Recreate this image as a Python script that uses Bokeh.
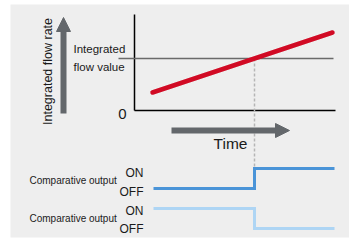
from bokeh.plotting import figure
from bokeh.models import Range1d, Arrow, NormalHead
from bokeh.core.properties import value
from bokeh.embed import file_html
from bokeh.resources import INLINE
import math

# ---- data (time / flow units) ----
flow_time = [1.8, 19.8]
flow_rate = [1.8, 7.8]
threshold = 5.2
threshold_span = [-1.6, 19.9]
cross_time = 12.0
axis_len_t = 20.1
axis_len_f = 9.6
sig_time = [1.9, 12.0, 20.0]
sig1_state = [0, 1, 1]
sig2_state = [1, 0, 0]

W, H = 349, 246
FONT = "Liberation Sans"
GRAY = "#63676b"

# helpers: reference pixel -> data units
def tx(px):
    return (px - 134) / 10.0

def ty(py):
    return (110 - py) / 10.0

p = figure(width=W, height=H, output_backend="svg", toolbar_location=None,
           x_range=Range1d(tx(0), tx(W)), y_range=Range1d(ty(H), ty(0)),
           min_border=0, min_border_left=0, min_border_right=0,
           min_border_top=0, min_border_bottom=0)
p.axis.visible = False
p.grid.visible = False
p.outline_line_color = None
p.background_fill_color = "white"
p.border_fill_color = "white"
# signal ranges: state 0/1 -> 20 px step
p.extra_y_ranges = {"sig1": Range1d((188 - H) / 20, 188 / 20),
                    "sig2": Range1d((228 - H) / 20, 228 / 20)}

# panel background
p.quad(left=[tx(10)], right=[tx(W + 5)], top=[ty(4)], bottom=[ty(237)],
       fill_color="#eeeeee", line_color=None)

# axes
p.line([0, 0], [0, axis_len_f], line_color="black", line_width=1.5)
p.line([0, axis_len_t], [0, 0], line_color="black", line_width=1.5)
# threshold
p.line(threshold_span, [threshold, threshold], line_color="#6a6a6a", line_width=1.5)
# dashed
p.line([cross_time, cross_time], [threshold, ty(168)], line_color="#b5b5b5",
       line_width=1.5, line_dash="3 2")
# flow line
p.line(flow_time, flow_rate, line_color="#d10a24", line_width=4.5, line_cap="round")

# signals
p.step(sig_time, sig1_state, mode="after", y_range_name="sig1",
       line_color="#4a94d8", line_width=3, line_join="miter")
p.step(sig_time, sig2_state, mode="after", y_range_name="sig2",
       line_color="#aed5f4", line_width=3, line_join="miter")

# arrows
p.add_layout(Arrow(end=NormalHead(size=14, fill_color=GRAY, line_color=GRAY),
                   x_start=tx(63), y_start=ty(113), x_end=tx(63), y_end=ty(17),
                   line_color=GRAY, line_width=6))
p.add_layout(Arrow(end=NormalHead(size=14, fill_color=GRAY, line_color=GRAY),
                   x_start=tx(171), y_start=ty(130), x_end=tx(289), y_end=ty(130),
                   line_color=GRAY, line_width=6))

# texts
def txt(x, y, s, size, align="left", angle=0):
    p.text(x=[tx(x)], y=[ty(y)], text=[s], text_font=value(FONT),
           text_font_size=f"{size}px", text_align=align, text_baseline="middle",
           text_color="#1a1a1a", angle=angle)

txt(47, 71, "Integrated flow rate", 12.5, align="center", angle=math.pi / 2)
txt(73, 48, "Integrated", 11.5)
txt(73, 66, "flow value", 11.5)
txt(122, 113, "0", 15, align="center")
txt(230, 143, "Time", 15.5, align="center")
txt(29, 180, "Comparative output", 10)
txt(29, 218, "Comparative output", 10)
txt(143, 172, "ON", 12, align="right")
txt(143, 191, "OFF", 12, align="right")
txt(143, 210, "ON", 12, align="right")
txt(143, 228, "OFF", 12, align="right")

open("out.html", "w").write(file_html(p, INLINE))
